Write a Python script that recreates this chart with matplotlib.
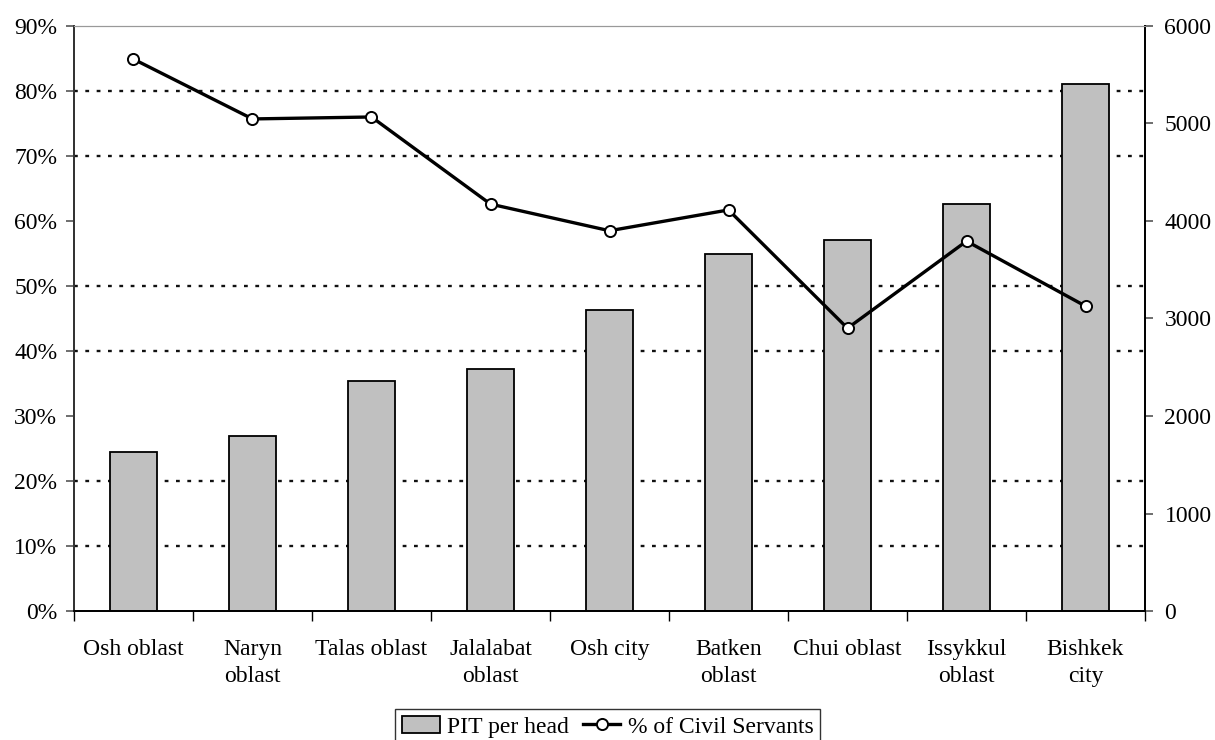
import numpy as np
import matplotlib
matplotlib.use("Agg")
import matplotlib.pyplot as plt
from matplotlib.patches import Patch
from matplotlib.lines import Line2D

regions = ["Osh oblast", "Naryn\noblast", "Talas oblast", "Jalalabat\noblast",
           "Osh city", "Batken\noblast", "Chui oblast", "Issykkul\noblast",
           "Bishkek\ncity"]
pit_per_head = [1630, 1795, 2355, 2485, 3090, 3665, 3805, 4175, 5405]
civil_servants_pct = [84.9, 75.7, 76.0, 62.6, 58.5, 61.7, 43.5, 56.9, 46.9]

plt.rcParams["font.family"] = ["Liberation Serif", "DejaVu Serif"]
plt.rcParams["font.size"] = 17

fig = plt.figure(figsize=(12.15, 7.4), dpi=100)
ax_bar = fig.add_axes([0.0609, 0.1743, 0.8815, 0.7906])
ax_line = ax_bar.twinx()

x = np.arange(len(regions))

# bars on the right-hand scale
ax_bar.bar(x, pit_per_head, width=0.4, color="#c0c0c0", edgecolor="black",
           linewidth=1.3, zorder=3)
ax_bar.set_ylim(0, 6000)
ax_bar.set_xlim(-0.5, len(regions) - 0.5)
ax_bar.yaxis.tick_right()
ax_bar.set_yticks(np.arange(0, 6001, 1000))
ax_bar.set_yticks(np.linspace(0, 6000, 10), minor=True)
ax_bar.tick_params(axis="y", which="major", length=6, width=1.2, pad=8,
                   color="#555555")
ax_bar.tick_params(axis="y", which="minor", length=0)
ax_bar.grid(axis="y", which="minor", linestyle=(0, (1.6, 3.2)),
            color="#111111", linewidth=1.7, zorder=1)
ax_bar.set_axisbelow(True)

# category boundaries as ticks, names at centres
ax_bar.set_xticks(np.arange(-0.5, len(regions)), labels=[""] * (len(regions) + 1))
ax_bar.set_xticks(x, labels=regions, minor=True)
ax_bar.tick_params(axis="x", which="major", length=7, width=1.0, direction="out")
ax_bar.tick_params(axis="x", which="minor", length=0, pad=20)
for lbl in ax_bar.get_xticklabels(minor=True):
    lbl.set_linespacing(1.38)

# line on the left-hand percent scale
ax_line.plot(x, civil_servants_pct, color="black", linewidth=2.4,
             marker="o", markersize=8, markerfacecolor="white",
             markeredgecolor="black", markeredgewidth=1.4, zorder=5)
ax_line.set_ylim(0, 90)
ax_line.yaxis.tick_left()
ax_line.set_yticks(np.arange(0, 91, 10),
                   labels=[f"{v}%" for v in range(0, 91, 10)])
ax_line.tick_params(axis="y", length=6, width=1.2, pad=6, color="#555555")

for a in (ax_bar, ax_line):
    a.spines["top"].set_color("#999999")
    a.spines["top"].set_linewidth(0.8)
    a.spines["left"].set_color("#333333")
    a.spines["left"].set_linewidth(1.3)
    a.spines["right"].set_color("black")
    a.spines["right"].set_linewidth(1.3)
    a.spines["bottom"].set_color("black")
    a.spines["bottom"].set_linewidth(1.3)

handles = [
    Patch(facecolor="#c0c0c0", edgecolor="black", linewidth=1.3),
    Line2D([0], [0], color="black", linewidth=2.4, marker="o", markersize=8,
           markerfacecolor="white", markeredgecolor="black",
           markeredgewidth=1.4),
]
leg = fig.legend(handles, ["PIT per head", "% of Civil Servants"],
                 loc="upper center", bbox_to_anchor=(0.5, 0.0419), ncol=2,
                 frameon=True, fancybox=False, edgecolor="black",
                 handlelength=1.6, handletextpad=0.3, columnspacing=0.6,
                 borderpad=0.3, borderaxespad=0.0, fontsize=17)
leg.get_frame().set_linewidth(1.0)

fig.savefig("out.png", dpi=100)
